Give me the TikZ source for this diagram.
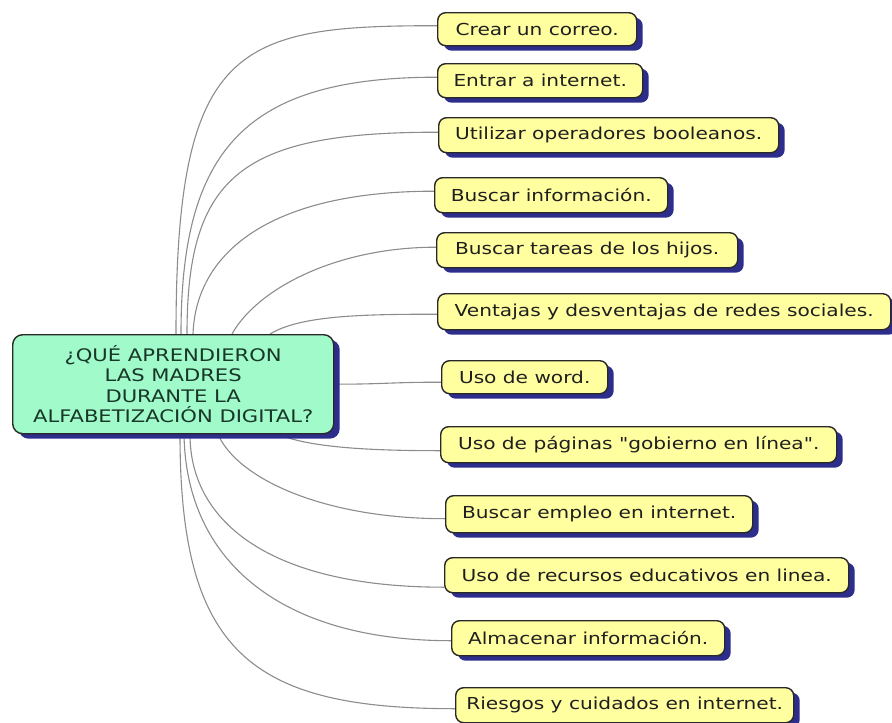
\documentclass[tikz,border=0pt]{standalone}
\usepackage{fontspec}
\newfontfamily\mmfont[FakeStretch=1.22]{DejaVu Sans}
\usetikzlibrary{shadows}
\definecolor{leaffill}{RGB}{255,255,160}
\definecolor{rootfill}{RGB}{160,250,202}
\definecolor{shadowblue}{RGB}{45,45,140}
\definecolor{edgegray}{RGB}{140,140,140}
\definecolor{bordercol}{RGB}{40,40,40}
\definecolor{roottext}{RGB}{25,55,40}
\pgfdeclarelayer{bg}
\pgfsetlayers{bg,main}
\begin{document}
\begin{tikzpicture}[x=1pt,y=-1pt,
  boxbase/.style={draw=bordercol, line width=1.4pt, anchor=north west, inner sep=0pt,
    drop shadow={shadow xshift=6pt, shadow yshift=-5pt, fill=shadowblue, opacity=1}},
  leaf/.style={boxbase, fill=leaffill, rounded corners=8pt,
    font=\mmfont\fontsize{16.5}{20}\selectfont, text=black!88},
  root/.style={boxbase, fill=rootfill, rounded corners=10pt, align=center,
    font=\mmfont\fontsize{17.3}{20.3}\selectfont, text=roottext},
  conn/.style={draw=edgegray, line width=1.1pt}]
\useasboundingbox (0,0) rectangle (892,723);

\node[root, minimum width=321pt, minimum height=99pt] (q) at (12,334)
  {¿QUÉ APRENDIERON\\LAS MADRES\\DURANTE LA\\ALFABETIZACIÓN DIGITAL?};

\node[leaf, minimum width=199pt, minimum height=33pt] (n1) at (437,12) {Crear un correo.};
\node[leaf, minimum width=205pt, minimum height=34pt] (n2) at (437,63) {Entrar a internet.};
\node[leaf, minimum width=340pt, minimum height=35pt] (n3) at (438,117) {Utilizar operadores booleanos.};
\node[leaf, minimum width=233pt, minimum height=35pt] (n4) at (434,177) {Buscar información.};
\node[leaf, minimum width=301pt, minimum height=35pt] (n5) at (436,232) {Buscar tareas de los hijos.};
\node[leaf, minimum width=453pt, minimum height=36pt] (n6) at (437,293) {Ventajas y desventajas de redes sociales.};
\node[leaf, minimum width=166pt, minimum height=33pt] (n7) at (441,360) {Uso de word.};
\node[leaf, minimum width=396pt, minimum height=36pt] (n8) at (440,426) {Uso de páginas "gobierno en línea".};
\node[leaf, minimum width=307pt, minimum height=37pt] (n9) at (445,495) {Buscar empleo en internet.};
\node[leaf, minimum width=404pt, minimum height=35pt] (n10) at (444,557) {Uso de recursos educativos en linea.};
\node[leaf, minimum width=273pt, minimum height=35pt] (n11) at (451,620) {Almacenar información.};
\node[leaf, minimum width=338pt, minimum height=35pt] (n12) at (455,687) {Riesgos y cuidados en internet.};

\begin{pgfonlayer}{bg}
\draw[conn] ([xshift=164pt]q.north west) .. controls +(0,-290) and +(-200,0) .. ([yshift=3.5pt]n1.west);
\draw[conn] ([xshift=169pt]q.north west) .. controls +(0,-184) and +(-192,0) .. ([yshift=3.5pt]n2.west);
\draw[conn] ([xshift=175pt]q.north west) .. controls +(0,-160) and +(-195,0) .. ([yshift=3pt]n3.west);
\draw[conn] ([xshift=181pt]q.north west) .. controls +(3,-84) and +(-160,0) .. ([yshift=4pt]n4.west);
\draw[conn] ([xshift=220pt]q.north west) .. controls +(25,-45) and +(-100,0) .. ([yshift=3pt]n5.west);
\draw[conn] ([xshift=258pt]q.north west) .. controls +(30,-18) and +(-80,0) .. ([yshift=-2.5pt]n6.west);
\draw[conn] (q.east) .. controls +(50,0) and +(-50,0) .. ([yshift=-5pt]n7.west);
\draw[conn] ([xshift=266pt]q.south west) .. controls +(30,12) and +(-80,0) .. ([yshift=-6pt]n8.west);
\draw[conn] ([xshift=206pt]q.south west) .. controls +(20,45) and +(-120,0) .. ([yshift=-4.5pt]n9.west);
\draw[conn] ([xshift=178pt]q.south west) .. controls +(0,90) and +(-170,0) .. ([yshift=-12pt]n10.west);
\draw[conn] ([xshift=172pt]q.south west) .. controls +(2,127) and +(-170,0) .. ([yshift=-2.5pt]n11.west);
\draw[conn] ([xshift=168pt]q.south west) .. controls +(0,217) and +(-205,0) .. ([yshift=-3.5pt]n12.west);
\end{pgfonlayer}
\end{tikzpicture}
\end{document}
